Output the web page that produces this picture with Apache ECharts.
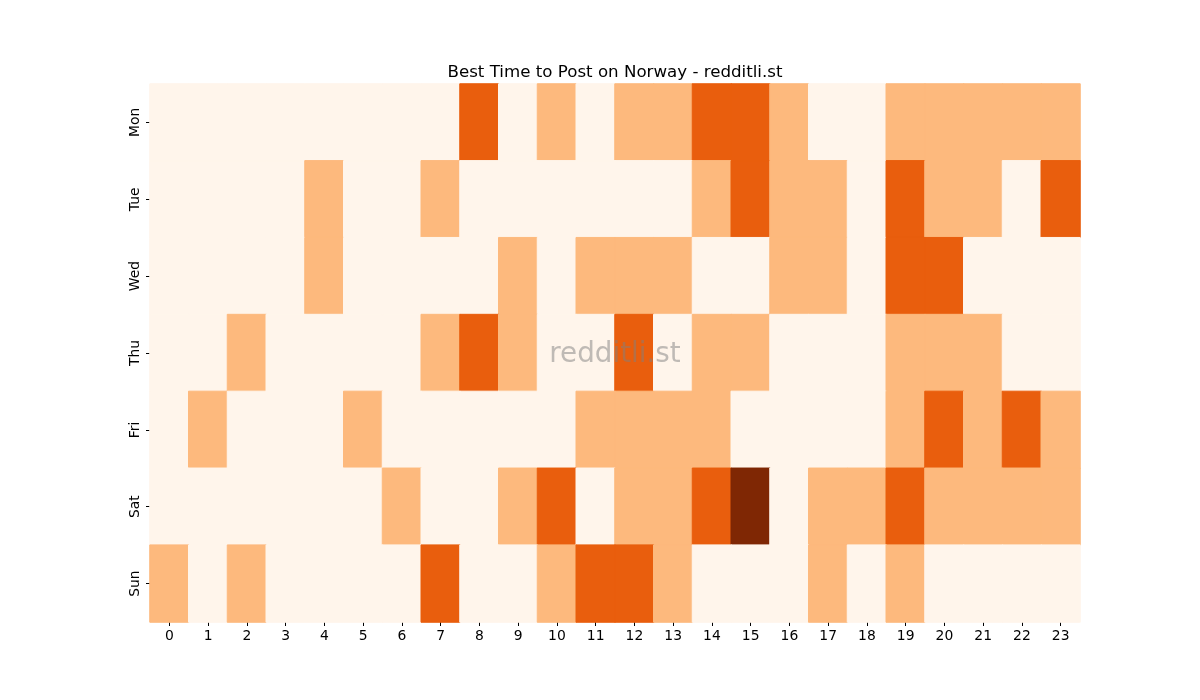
<!DOCTYPE html>
<html>
<head>
<meta charset="utf-8">
<title>Best Time to Post on Norway</title>
<script src="https://cdn.jsdelivr.net/npm/echarts@6/dist/echarts.min.js"></script>
<style>
  html, body { margin: 0; padding: 0; background: #fff; }
  #chart { width: 1200px; height: 700px; }
</style>
</head>
<body>
<div id="chart"></div>
<script>
const hours = ['0', '1', '2', '3', '4', '5', '6', '7', '8', '9', '10', '11',
  '12', '13', '14', '15', '16', '17', '18', '19', '20', '21', '22', '23']
const days = ['Mon', 'Tue', 'Wed', 'Thu', 'Fri', 'Sat', 'Sun']

// activity level per hour, one row per day
const mon = [0, 0, 0, 0, 0, 0, 0, 0, 2, 0, 1, 0, 1, 1, 2, 2, 1, 0, 0, 1, 1, 1, 1, 1]
const tue = [0, 0, 0, 0, 1, 0, 0, 1, 0, 0, 0, 0, 0, 0, 1, 2, 1, 1, 0, 2, 1, 1, 0, 2]
const wed = [0, 0, 0, 0, 1, 0, 0, 0, 0, 1, 0, 1, 1, 1, 0, 0, 1, 1, 0, 2, 2, 0, 0, 0]
const thu = [0, 0, 1, 0, 0, 0, 0, 1, 2, 1, 0, 0, 2, 0, 1, 1, 0, 0, 0, 1, 1, 1, 0, 0]
const fri = [0, 1, 0, 0, 0, 1, 0, 0, 0, 0, 0, 1, 1, 1, 1, 0, 0, 0, 0, 1, 2, 1, 2, 1]
const sat = [0, 0, 0, 0, 0, 0, 1, 0, 0, 1, 2, 0, 1, 1, 2, 3, 0, 1, 1, 2, 1, 1, 1, 1]
const sun = [1, 0, 1, 0, 0, 0, 0, 2, 0, 0, 1, 2, 2, 1, 0, 0, 0, 1, 0, 1, 0, 0, 0, 0]

// Oranges colormap sampled at 0, 1/3, 2/3, 1
const levelColors = ['#fff5eb', '#fdb97d', '#e95e0d', '#7f2704']

const rows = [mon, tue, wed, thu, fri, sat, sun]
const cells = []
rows.forEach((row, d) => {
  row.forEach((v, h) => {
    const c = levelColors[v]
    // border in the same colour hides the anti-alias seams between cells
    cells.push({ value: [h, d, v], itemStyle: { color: c, borderColor: c, borderWidth: 1 } })
  })
})

const font = 'DejaVu Sans'
const chart = echarts.init(document.getElementById('chart'))
const option = {
  animation: false,
  title: {
    text: 'Best Time to Post on Norway - redditli.st',
    left: 610,
    textAlign: 'center',
    top: 59,
    textStyle: { fontFamily: font, fontSize: 16.67, fontWeight: 'normal', color: '#000' }
  },
  grid: {
    left: 150,
    right: 120,
    top: 84,
    bottom: 78
  },
  xAxis: {
    type: 'category',
    data: hours,
    axisLine: { show: false },
    axisTick: { show: true, alignWithLabel: true, length: 4, lineStyle: { color: '#000' } },
    axisLabel: { fontFamily: font, fontSize: 13.9, color: '#000', margin: 7 },
    splitArea: { show: false }
  },
  yAxis: {
    type: 'category',
    data: days,
    inverse: true,
    axisLine: { show: false },
    axisTick: { show: true, alignWithLabel: true, length: 4, lineStyle: { color: '#000' } },
    axisLabel: { fontFamily: font, fontSize: 13.9, color: '#000', rotate: 90, margin: 8 },
    splitArea: { show: false }
  },
  graphic: [{
    type: 'text',
    x: 615,
    y: 355,
    z: 100,
    silent: true,
    style: {
      text: 'redditli.st',
      fontFamily: font,
      fontSize: 27.8,
      fill: 'rgba(128, 128, 128, 0.5)',
      align: 'center',
      verticalAlign: 'middle'
    }
  }],
  series: [{
    type: 'heatmap',
    data: cells,
    emphasis: { disabled: true }
  }]
}
chart.setOption(option)
window.addEventListener('resize', () => chart.resize())
</script>
</body>
</html>
